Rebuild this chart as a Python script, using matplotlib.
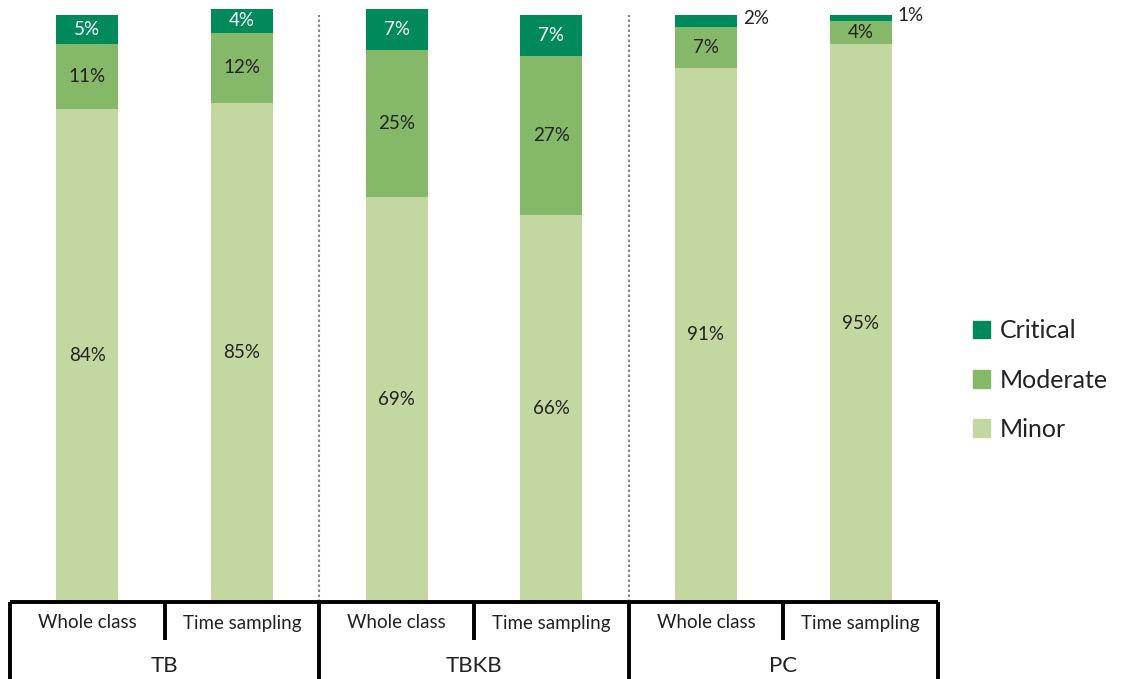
import matplotlib
matplotlib.use("Agg")
import matplotlib.pyplot as plt
from matplotlib.patches import Patch
from matplotlib.transforms import blended_transform_factory
import numpy as np

plt.rcParams['font.family'] = ['Lato', 'DejaVu Sans']

groups = ["TB", "TBKB", "PC"]
methods = ["Whole class", "Time sampling"]
minor = [84, 85, 69, 66, 91, 95]
moderate = [11, 12, 25, 27, 7, 4]
critical = [5, 4, 7, 7, 2, 1]

c_critical = "#008A5C"
c_moderate = "#85B868"
c_minor = "#C3D8A0"

W, H = 1122, 679
fig = plt.figure(figsize=(W / 100, H / 100), dpi=100)
ax = fig.add_axes([10 / W, 77 / H, 928 / W, 587 / H])

x = np.arange(len(minor))
bw = 0.4
minor_a = np.array(minor)
mod_a = np.array(moderate)
crit_a = np.array(critical)

ax.bar(x, minor_a, bw, color=c_minor, zorder=2, clip_on=False)
ax.bar(x, mod_a, bw, bottom=minor_a, color=c_moderate, zorder=2, clip_on=False)
ax.bar(x, crit_a, bw, bottom=minor_a + mod_a, color=c_critical, zorder=2,
       clip_on=False)

ax.set_xlim(-0.5, 5.5)
ax.set_ylim(0, 100)
ax.axis("off")

fs = 13.5
for i in range(len(x)):
    ax.text(x[i], minor_a[i] / 2, f"{minor[i]}%", ha="center", va="center",
            fontsize=fs, color="#222222")
    ax.text(x[i], minor_a[i] + mod_a[i] / 2, f"{moderate[i]}%", ha="center",
            va="center", fontsize=fs, color="#222222")
    top = minor_a[i] + mod_a[i]
    if crit_a[i] >= 3:
        ax.text(x[i], top + crit_a[i] / 2, f"{critical[i]}%", ha="center",
                va="center", fontsize=fs, color="white")
    else:
        ax.text(x[i] + bw / 2 + 0.04, top + crit_a[i] / 2 + 0.4, f"{critical[i]}%",
                ha="left", va="center", fontsize=fs, color="#222222")

# dotted separators between groups
for g in range(1, len(groups)):
    ax.axvline(2 * g - 0.5, ymin=0, ymax=1, color="#888888", lw=1.5,
               ls=(0, (1.2, 1.2)), zorder=1)

# category axis drawn as a table below the plot
tr = blended_transform_factory(ax.transData, fig.transFigure)
y0 = 77 / H
y_mid = 39 / H
y_bot = 0.0
ax.plot([-0.5, 5.5], [y0, y0], transform=tr, color="black", lw=2.8,
        clip_on=False, solid_capstyle="butt")
for k in range(len(minor) + 1):
    xb = k - 0.5
    ylow = y_bot if k % 2 == 0 else y_mid
    ax.plot([xb, xb], [y0, ylow], transform=tr, color="black", lw=2.8,
            clip_on=False, solid_capstyle="butt")
for i in range(len(minor)):
    ax.text(x[i], (H - 623) / H, methods[i % 2], transform=tr, ha="center",
            va="center", fontsize=13.5, color="#222222")
for g, name in enumerate(groups):
    ax.text(2 * g + 0.5, (H - 666) / H, name, transform=tr, ha="center",
            va="center", fontsize=16, color="#222222")

handles = [Patch(color=c_critical, label="Critical"),
           Patch(color=c_moderate, label="Moderate"),
           Patch(color=c_minor, label="Minor")]
fig.legend(handles=handles, loc="center left", bbox_to_anchor=(950 / W, (H - 380) / H),
           frameon=False, fontsize=18, handlelength=0.7, handleheight=0.7,
           handletextpad=0.4, labelspacing=1.05, labelcolor="#222222")

fig.savefig("out.png", dpi=100)
